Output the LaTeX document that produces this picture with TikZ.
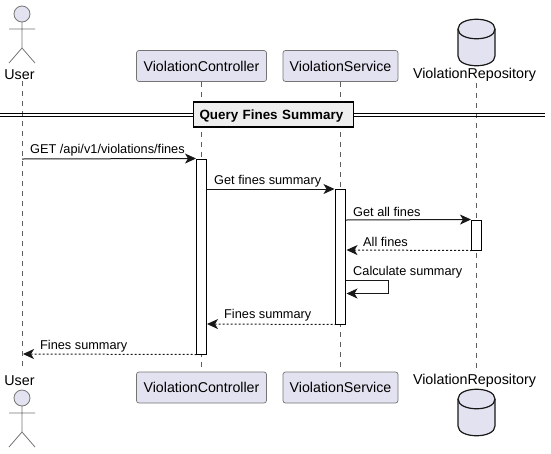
\documentclass[tikz,border=0pt]{standalone}
\usepackage{fontspec}
\setmainfont{Liberation Sans}
\usetikzlibrary{arrows.meta}

\definecolor{partfill}{HTML}{E2E2F0}
\definecolor{partline}{HTML}{181818}
\definecolor{titlefill}{HTML}{EEEEEE}

\tikzset{
  partbox/.style={draw=partline!60, line width=.7pt, fill=partfill, rounded corners=2.5pt, minimum width=130pt, minimum height=31pt, inner sep=0pt, font=\fontsize{14.2}{16}\selectfont},
  parttext/.style={inner sep=0pt, font=\fontsize{14.3}{16}\selectfont},
  lifeline/.style={draw=partline!70, line width=.7pt, dash pattern=on 5pt off 5pt},
  actbar/.style={draw=black, line width=1pt, fill=white, minimum width=10pt, inner sep=0pt},
  msgtext/.style={anchor=west, inner sep=0pt, font=\fontsize{12.75}{15}\selectfont},
  msg/.style={draw=partline, line width=1pt, -{Stealth[length=11pt,width=10pt,inset=3pt]}},
  reply/.style={msg, dash pattern=on 2pt off 2pt, {Stealth[length=11pt,width=10pt,inset=3pt]}-},
  actor/.pic={
    \draw[draw=partline!60, line width=.8pt, fill=partfill] (0,0) circle (8);
    \draw[draw=partline!60, line width=.8pt] (0,8) -- (0,34) (-13,15) -- (13,15) (-13,49) -- (0,34) -- (13,49);
  },
  dbcan/.pic={
    \draw[draw=partline, line width=1.2pt, fill=partfill] (-18.5,10) .. controls (-18.5,-3) and (18.5,-3) .. (18.5,10) -- (18.5,37) .. controls (18.5,50) and (-18.5,50) .. (-18.5,37) -- cycle;
    \draw[draw=partline, line width=1.2pt] (-18.5,10) .. controls (-18.5,23) and (18.5,23) .. (18.5,10);
  }
}

\begin{document}
\begin{tikzpicture}[x=1pt, y=-1pt]

\useasboundingbox (0,0) rectangle (551,453);

% participants, top row
\pic at (22,14) {actor};
\node [parttext] (userTop) at (19.5,75) {User};
\node [partbox] (ctrlTop) at (201.5,66) {ViolationController};
\node [partbox, minimum width=115pt] (servTop) at (340.5,66) {ViolationService};
\pic at (476.5,19) {dbcan};
\node [parttext] (repoTop) at (474.5,75) {ViolationRepository};

% participants, bottom row
\node [parttext] (userBot) at (19.5,381) {User};
\pic at (22,398) {actor};
\node [partbox] (ctrlBot) at (201.5,387.5) {ViolationController};
\node [partbox, minimum width=115pt] (servBot) at (340.5,387.5) {ViolationService};
\node [parttext] (repoBot) at (474.5,381) {ViolationRepository};
\pic at (476.5,389) {dbcan};

% lifelines
\draw [lifeline, shorten <=1pt, shorten >=6pt] ([xshift=2.5pt]userTop.south) -- ([xshift=2.5pt]userBot.north);
\draw [lifeline] (ctrlTop) -- (ctrlBot);
\draw [lifeline] (servTop) -- (servBot);
\draw [lifeline, shorten <=1pt, shorten >=6pt] ([xshift=2pt]repoTop.south) -- ([xshift=2pt]repoBot.north);

% divider
\coordinate (divL) at (0,115);
\coordinate (divR) at (545,115);
\draw [line width=1pt] ([yshift=-1.7pt]divL) -- ([yshift=-1.7pt]divR);
\draw [line width=1pt] ([yshift=1.7pt]divL) -- ([yshift=1.7pt]divR);
\node [draw=black, line width=1.5pt, fill=titlefill, text width=148pt, align=left, text height=11pt, text depth=1.5pt, minimum height=25pt, inner xsep=6pt, inner ysep=0pt, font=\fontsize{13.4}{15}\selectfont\bfseries] (title) at (273.5,114.5) {Query Fines Summary};

% activation bars
\node [actbar, minimum height=195pt] (ctrlBar) at (201.5,256.5) {};
\node [actbar, minimum height=135pt] (servBar) at (340.5,256.5) {};
\node [actbar, minimum height=30pt] (repoBar) at (476.5,235) {};

% messages
\coordinate (getUser) at (22,159);
\coordinate (sumUser) at (23,354);
\coordinate (sumCtrlIn) at (207,324);
\coordinate (sumCtrlOut) at (206.5,189);
\coordinate (getServ) at (334.5,189);
\coordinate (servOut) at (346,220);
\coordinate (servIn) at (346.5,250);
\coordinate (selfA) at (346,280);
\coordinate (selfB) at (388,280);
\coordinate (selfC) at (388,293.5);
\coordinate (selfD) at (346.5,293.5);

\draw [msg] (getUser) -- (ctrlBar.north west);
\draw [msg] (sumCtrlOut) -- (getServ);
\draw [msg] (servOut) -- (repoBar.north west);
\draw [reply] (servIn) -- (repoBar.south west);
\draw [msg] (selfA) -- (selfB) -- (selfC) -- (selfD);
\draw [reply] (sumCtrlIn) -- (servBar.south west);
\draw [reply] (sumUser) -- (ctrlBar.south west);

\node [msgtext] (lblGet) at (30,150) {GET /api/v1/violations/fines};
\node [msgtext] (lblSum) at (214,181) {Get fines summary};
\node [msgtext] (lblAll) at (353,212) {Get all fines};
\node [msgtext] (lblBack) at (363,242) {All fines};
\node [msgtext] (lblCalc) at (353,272) {Calculate summary};
\node [msgtext] (lblServ) at (224,315.5) {Fines summary};
\node [msgtext] (lblCtrl) at (40,346) {Fines summary};

\end{tikzpicture}
\end{document}
